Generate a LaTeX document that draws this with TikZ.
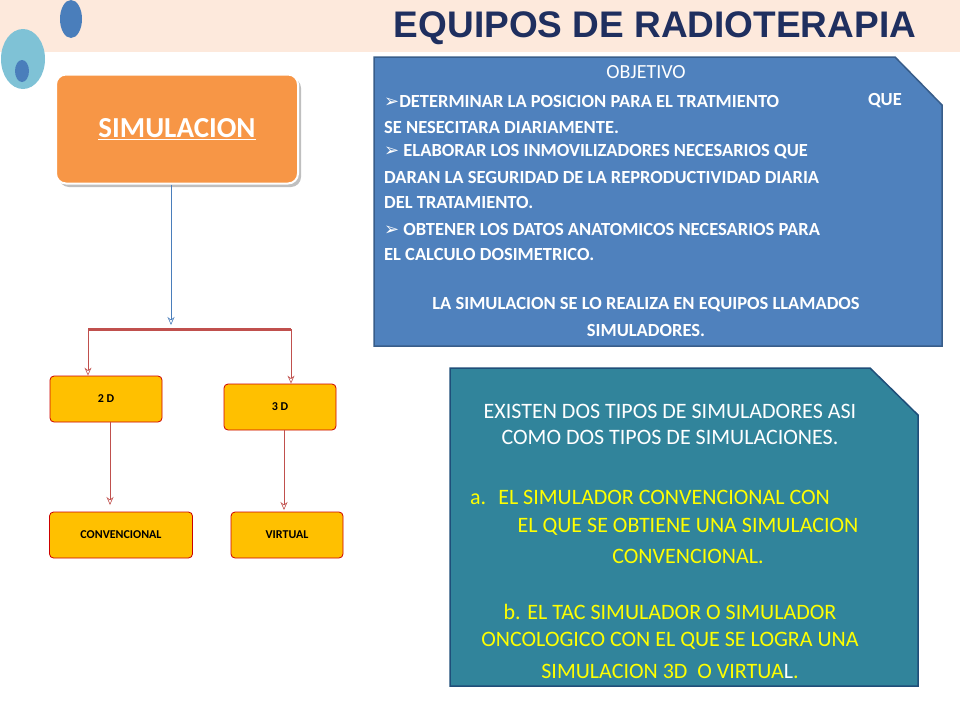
\documentclass[tikz,border=0pt]{standalone}
\usepackage{fontspec}
\setmainfont{Carlito}
\newfontfamily\arialf{Liberation Sans}
\newfontfamily\dejav{DejaVu Sans}
\usetikzlibrary{arrows.meta}
\definecolor{peach}{HTML}{FDE9DC}
\definecolor{navy}{HTML}{1F2F5F}
\definecolor{dblue}{HTML}{4A7EBB}
\definecolor{lblue}{HTML}{7FC2D6}
\definecolor{orng}{HTML}{F79646}
\definecolor{ylw}{HTML}{FFC000}
\definecolor{boxblue}{HTML}{4F81BD}
\definecolor{boxbluedk}{HTML}{385D8A}
\definecolor{tealc}{HTML}{31849B}
\definecolor{tealdk}{HTML}{1F4E79}
\definecolor{yt}{HTML}{FFFF00}
\definecolor{redl}{HTML}{C0504D}
\tikzset{
 smallbox/.style={draw=red!80!black,fill=ylw,rounded corners=4pt,line width=0.8pt,font=\bfseries\fontsize{12}{14}\selectfont,inner sep=0},
 arr/.style={-{Stealth[length=8pt,width=7pt,open]},draw=redl,line width=0.6pt},
 bt/.style={anchor=west,text=white,font=\bfseries\fontsize{18.5}{21}\selectfont,inner sep=0},
 ct/.style={text=white,font=\bfseries\fontsize{18.5}{21}\selectfont,inner sep=0},
 tw/.style={text=white,font=\fontsize{22}{25}\selectfont,inner sep=0},
 ty/.style={text=yt,font=\fontsize{22}{25}\selectfont,inner sep=0},
}
\newcommand\bul{{\dejav\fontsize{18}{20}\selectfont ➢}}
\begin{document}
\begin{tikzpicture}[x=1pt,y=-1pt]
\useasboundingbox (0,0) rectangle (960,720);
\fill[peach] (0,0) rectangle (960,52);
\fill[dblue] (71,19) ellipse [x radius=11,y radius=19];
\fill[lblue] (23,59) ellipse [x radius=22,y radius=30];
\fill[dblue] (22,71) ellipse [x radius=7,y radius=11];
\node (title) [text=navy,font=\arialf\bfseries\fontsize{37}{40}\selectfont,inner sep=0] at (655,28) {EQUIPOS DE RADIOTERAPIA};
\fill[black!25,rounded corners=10pt] (59,78) rectangle (301,187);
\node (sim) [draw=white,line width=2pt,fill=orng,rounded corners=10pt,minimum width=242,minimum height=109,text=white,font=\bfseries\fontsize{29}{32}\selectfont] at (177,129) {\underline{SIMULACION}};
\coordinate (bar) at (171,325);
\draw[-{Stealth[length=8pt,width=7pt,open]},draw=dblue,line width=0.6pt] (sim.south -| bar) -- (bar);
\coordinate (bl) at (88,329); \coordinate (br) at (291,329);
\draw[redl,line width=3pt] (bl) -- (br);
\node (d2) [smallbox,minimum width=112,minimum height=46] at (106,399) {2 D};
\node (d3) [smallbox,minimum width=112,minimum height=46] at (280,407) {3 D};
\node (conv) [smallbox,minimum width=143,minimum height=46] at (121,535) {CONVENCIONAL};
\node (virt) [smallbox,minimum width=112,minimum height=46] at (287,535) {VIRTUAL};
\draw[arr] (bl) -- (bl |- d2.north);
\draw[arr] (br) -- (br |- d3.north);
\draw[arr] (110,422) -- (110,505);
\draw[arr] (284,430) -- (284,510);
\draw[fill=boxblue,draw=boxbluedk,line width=1.5pt] (374,57) -- (895,57) -- (942,105) -- (942,346) -- (374,346) -- cycle;
\node[text=white,font=\fontsize{20}{22}\selectfont,inner sep=0] at (646,72) {OBJETIVO};
\node[bt] at (384,101) {\bul DETERMINAR LA POSICION PARA EL TRATMIENTO};
\node[ct,anchor=east] at (902,101) {QUE};
\node[bt] at (384,127) {SE NESECITARA DIARIAMENTE.};
\node[bt] at (384,152) {\bul\ ELABORAR LOS INMOVILIZADORES NECESARIOS QUE};
\node[bt] at (384,177) {DARAN LA SEGURIDAD DE LA REPRODUCTIVIDAD DIARIA};
\node[bt] at (384,202) {DEL TRATAMIENTO.};
\node[bt] at (384,229) {\bul\ OBTENER LOS DATOS ANATOMICOS NECESARIOS PARA};
\node[bt] at (384,254) {EL CALCULO DOSIMETRICO.};
\node[ct] at (646,305) {LA SIMULACION SE LO REALIZA EN EQUIPOS LLAMADOS};
\node[ct] at (646,330) {SIMULADORES.};
\draw[fill=tealc,draw=tealdk,line width=1.5pt] (450,368) -- (870,368) -- (918,415) -- (918,686) -- (450,686) -- cycle;
\node[tw] at (670,411) {EXISTEN DOS TIPOS DE SIMULADORES ASI};
\node[tw] at (670,437) {COMO DOS TIPOS DE SIMULACIONES.};
\node[ty,anchor=west] at (470,497) {a.\hspace{12pt}EL SIMULADOR CONVENCIONAL CON};
\node[ty] at (688,527) {EL QUE SE OBTIENE UNA SIMULACION};
\node[ty] at (688,556) {CONVENCIONAL.};
\node[ty] at (670,612) {b. EL TAC SIMULADOR O SIMULADOR};
\node[ty] at (670,641) {ONCOLOGICO CON EL QUE SE LOGRA UNA};
\node[ty] at (670,671) {SIMULACION 3D\ \ O VIRTUA\textcolor{white}{L}.};
\end{tikzpicture}
\end{document}
